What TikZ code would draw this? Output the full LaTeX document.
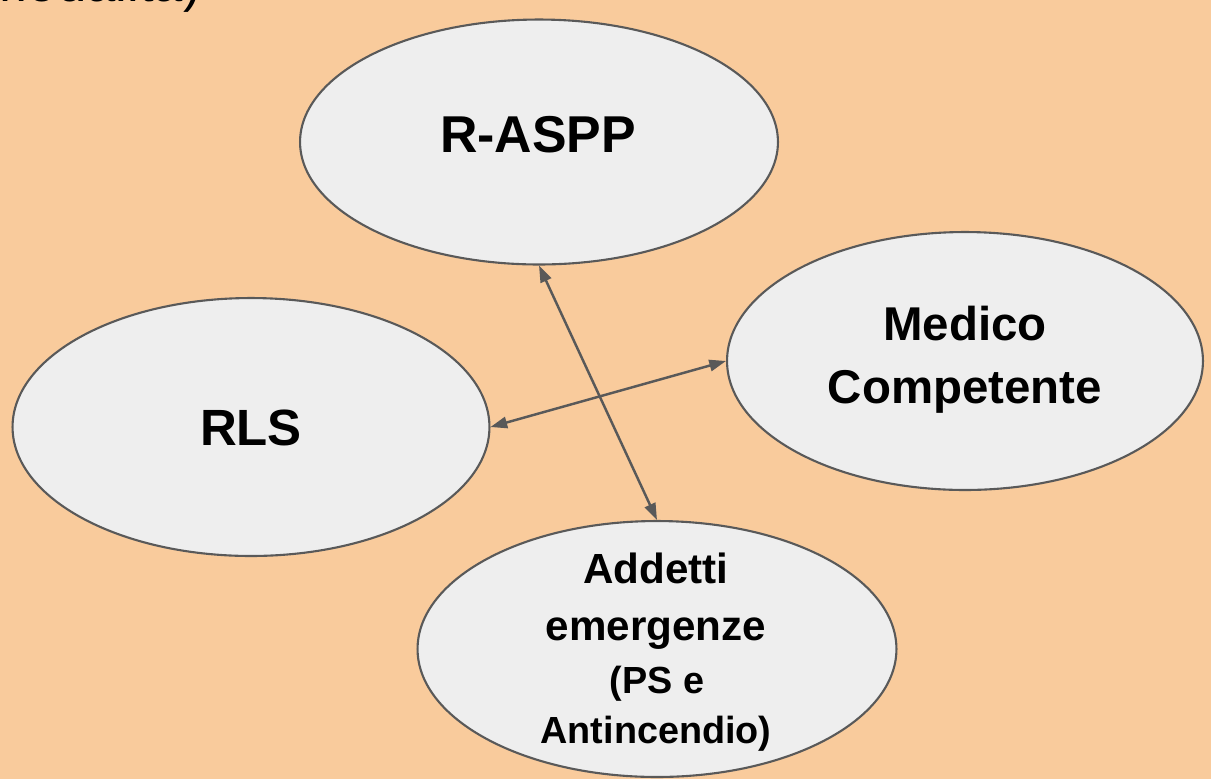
\documentclass[tikz,border=0pt]{standalone}
\usepackage{fontspec}
\setmainfont{Liberation Sans}
\usetikzlibrary{shapes.geometric,arrows.meta}

\definecolor{peach}{HTML}{F9CB9C}
\definecolor{bubblefill}{HTML}{EEEEEE}
\definecolor{edgegray}{HTML}{595959}

\tikzset{
  bubble/.style={ellipse, draw=edgegray, line width=1.2pt, fill=bubblefill, inner sep=0pt},
  role/.style={anchor=base, inner sep=0pt, font=\bfseries\fontsize{#1}{#1}\selectfont},
  link/.style={{Triangle[length=9.5pt,width=6.5pt]}-{Triangle[length=9.5pt,width=6.5pt]}, draw=edgegray, line width=1.4pt}
}

\begin{document}
\begin{tikzpicture}[x=0.02cm, y=-0.02cm]
            \fill[peach] (0,0) rectangle (1211,779);
            \clip (0,0) rectangle (1211,779);

            % cut-off title line
            \node[anchor=base east, inner sep=0pt, font=\fontsize{30}{30}\selectfont] (title) at (201,1) {modalità)};

            % ellipses
            \node[bubble, minimum width=9.56cm, minimum height=4.9cm] (aspp) at (539,142) {};
            \node[bubble, minimum width=9.54cm, minimum height=5.16cm] (rls) at (251,427) {};
            \node[bubble, minimum width=9.52cm, minimum height=5.16cm] (medico) at (965,361) {};
            \node[bubble, minimum width=9.58cm, minimum height=5.12cm] (addetti) at (657,649) {};

            % texts
            \node[role=29.5] (asppname) at (538,152) {R-ASPP};
            \node[role=29] (rlsname) at (251,445) {RLS};
            \node[role=27] (mediconame) at (965,340) {Medico};
            \node[role=27] (competente) at (965,403) {Competente};
            \node[role=24] (addettiname) at (656,583) {Addetti};
            \node[role=24] (emergenze) at (656,640) {emergenze};
            \node[role=21.5] (psname) at (657,693) {(PS e};
            \node[role=21.5] (antincendio) at (656,743) {Antincendio)};

            % connectors
            \draw[link] (aspp.south) -- (addetti.north);
            \draw[link] (rls.east) -- (medico.west);
\end{tikzpicture}
\end{document}
